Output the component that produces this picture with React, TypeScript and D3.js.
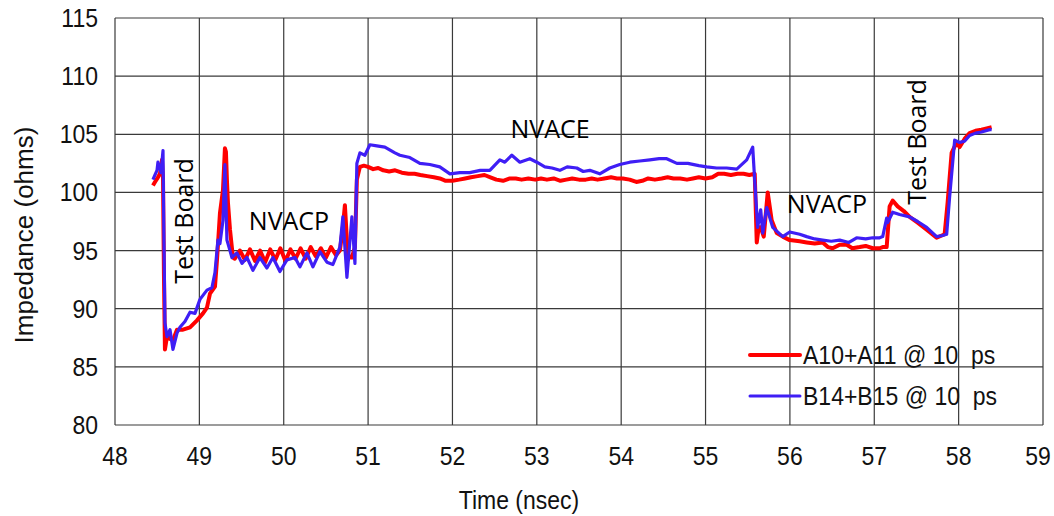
import React from "react";
import * as d3 from "d3";

// Time axis (ns) and impedance (ohms) samples for each TDR trace
const redTime = [
  48.45, 48.474, 48.509, 48.533, 48.557, 48.569, 48.58, 48.592, 48.616, 48.628, 48.652, 48.687, 48.735,
  48.806, 48.889, 48.972, 49.043, 49.09, 49.126, 49.185, 49.209, 49.244, 49.28, 49.303, 49.315,
  49.327, 49.339, 49.363, 49.398, 49.42, 49.48, 49.54, 49.6, 49.66, 49.72, 49.78, 49.84, 49.9, 49.96,
  50.02, 50.08, 50.14, 50.2, 50.26, 50.32, 50.38, 50.44, 50.5, 50.56, 50.62, 50.666, 50.701, 50.725,
  50.749, 50.761, 50.784, 50.808, 50.844, 50.867, 50.903, 50.95, 51.0, 51.06, 51.12, 51.18, 51.25,
  51.32, 51.4, 51.48, 51.55, 51.62, 51.7, 51.78, 51.85, 51.92, 52.0, 52.08, 52.15, 52.22, 52.3,
  52.38, 52.45, 52.52, 52.6, 52.68, 52.75, 52.82, 52.9, 52.98, 53.05, 53.12, 53.2, 53.28, 53.35,
  53.42, 53.5, 53.58, 53.65, 53.72, 53.8, 53.88, 53.95, 54.02, 54.1, 54.18, 54.25, 54.32, 54.4,
  54.48, 54.55, 54.62, 54.7, 54.78, 54.85, 54.92, 55.0, 55.08, 55.15, 55.22, 55.3, 55.38, 55.45,
  55.52, 55.583, 55.607, 55.63, 55.654, 55.69, 55.737, 55.784, 55.844, 55.915, 55.998, 56.116,
  56.199, 56.294, 56.389, 56.45, 56.507, 56.59, 56.673, 56.74, 56.827, 56.898, 56.981, 57.064,
  57.1, 57.147, 57.182, 57.218, 57.277, 57.35, 57.419, 57.514, 57.621, 57.739, 57.834, 57.869,
  57.917, 57.976, 58.012, 58.07, 58.13, 58.2, 58.27, 58.332, 58.391,
];
const redOhms = [
  100.6, 100.9, 101.3, 101.6, 102.8, 101.2, 93.0, 86.5, 87.6, 87.8, 87.4, 87.3, 88.2,
  88.2, 88.4, 89.0, 89.6, 90.1, 91.3, 91.9, 94.2, 98.2, 100.2, 103.8, 103.5,
  101.0, 99.1, 96.8, 94.4, 94.3, 95.0, 94.2, 95.1, 94.1, 95.0, 94.0, 95.1, 94.2, 95.2,
  94.1, 95.1, 94.3, 95.2, 94.3, 95.3, 94.5, 95.2, 94.4, 95.3, 94.6, 95.0, 97.0, 98.9,
  95.9, 94.2, 94.5, 94.4, 95.3, 101.1, 102.2, 102.3, 102.2, 102.0, 102.1, 101.9, 101.8,
  101.9, 101.7, 101.6, 101.6, 101.5, 101.4, 101.3, 101.2, 101.0, 101.0, 101.1, 101.2, 101.3, 101.4,
  101.5, 101.3, 101.1, 101.0, 101.2, 101.2, 101.1, 101.2, 101.1, 101.2, 101.1, 101.2, 101.0, 101.1,
  101.2, 101.1, 101.1, 101.2, 101.1, 101.2, 101.3, 101.2, 101.2, 101.1, 100.9, 101.0, 101.2, 101.1,
  101.2, 101.3, 101.2, 101.2, 101.1, 101.2, 101.3, 101.2, 101.3, 101.6, 101.6, 101.5, 101.6, 101.6,
  101.5, 101.6, 95.7, 97.0, 97.0, 96.2, 100.0, 97.6, 96.5, 96.2, 95.9, 95.8,
  95.7, 95.6, 95.7, 95.3, 95.2, 95.5, 95.5, 95.2, 95.3, 95.4, 95.2, 95.2,
  95.3, 95.3, 98.8, 99.3, 98.8, 98.4, 97.9, 97.4, 96.8, 96.1, 96.4, 99.1,
  103.4, 104.3, 103.9, 104.6, 105.1, 105.3, 105.4, 105.5, 105.6,
];

const blueTime = [
  48.45, 48.474, 48.498, 48.509, 48.533, 48.545, 48.569, 48.58, 48.592, 48.616, 48.652, 48.687,
  48.735, 48.77, 48.829, 48.889, 48.948, 49.007, 49.09, 49.149, 49.185, 49.22, 49.244, 49.28,
  49.303, 49.327, 49.351, 49.386, 49.445, 49.505, 49.564, 49.635, 49.718, 49.801, 49.872,
  49.955, 50.038, 50.133, 50.192, 50.275, 50.346, 50.429, 50.512, 50.583, 50.666, 50.701,
  50.749, 50.808, 50.844, 50.867, 50.903, 50.962, 51.021, 51.104, 51.199, 51.318, 51.377,
  51.495, 51.614, 51.732, 51.85, 51.97, 52.088, 52.205, 52.33, 52.443, 52.562, 52.621, 52.704,
  52.799, 52.917, 53.0, 53.095, 53.18, 53.273, 53.36, 53.474, 53.55, 53.628, 53.746, 53.865,
  53.983, 54.102, 54.22, 54.34, 54.45, 54.54, 54.66, 54.79, 54.92, 55.014, 55.13, 55.25, 55.37,
  55.488, 55.559, 55.583, 55.618, 55.654, 55.678, 55.725, 55.796, 55.915, 55.998, 56.116,
  56.199, 56.294, 56.389, 56.49, 56.59, 56.7, 56.791, 56.898, 56.981, 57.064, 57.1, 57.147,
  57.159, 57.218, 57.3, 57.419, 57.514, 57.621, 57.739, 57.81, 57.858, 57.893, 57.953, 58.012,
  58.07, 58.13, 58.2, 58.27, 58.367, 58.391,
];
const blueOhms = [
  101.1, 101.5, 101.9, 102.6, 102.1, 101.7, 103.6, 96.0, 88.8, 87.6, 88.2, 86.5,
  87.9, 88.4, 88.9, 89.7, 89.6, 90.8, 91.6, 91.8, 93.1, 95.9, 95.6, 97.6,
  102.4, 95.9, 95.3, 94.4, 94.8, 93.9, 94.4, 93.3, 94.4, 93.5, 94.4,
  93.2, 94.2, 94.4, 93.6, 94.8, 93.6, 94.9, 94.0, 93.8, 95.3, 97.9,
  92.7, 97.9, 93.9, 102.5, 103.4, 103.2, 104.1, 104.0, 103.9, 103.4, 103.2,
  103.0, 102.5, 102.4, 102.2, 101.6, 101.7, 101.7, 101.9, 101.9, 102.8, 102.6, 103.2,
  102.6, 102.9, 102.6, 102.2, 102.1, 101.9, 102.2, 102.1, 101.8, 101.9, 101.6, 102.1,
  102.4, 102.6, 102.7, 102.8, 102.9, 102.9, 102.5, 102.5, 102.3, 102.2, 102.1, 102.1, 102.0,
  102.8, 103.9, 101.0, 97.0, 98.5, 96.5, 98.7, 97.0, 96.2, 96.6, 96.4,
  96.2, 96.0, 95.9, 95.8, 95.9, 95.7, 96.1, 96.0, 96.1, 96.1, 96.2, 97.8,
  97.4, 98.3, 98.1, 97.9, 97.5, 97.0, 96.2, 96.3, 96.4, 99.6, 104.5, 104.3,
  104.4, 104.9, 105.1, 105.2, 105.4, 105.4,
];

const xTicks = [48, 49, 50, 51, 52, 53, 54, 55, 56, 57, 58, 59];
const yTicks = [80, 85, 90, 95, 100, 105, 110, 115];

const seriesNames = ["A10+A11 @ 10  ps", "B14+B15 @ 10  ps"];
const seriesColors = ["#ff0000", "#3f1ef5"];

const W = 1054;
const H = 516;
const plot = { left: 115, right: 1043, top: 18, bottom: 425 };
const axisFont = "'Liberation Sans', Arial, sans-serif";
const noteFont = "'Open Sans', 'Noto Sans', sans-serif";
const axisSize = 25;
const squeeze = 0.92; // horizontal condensing of the axis lettering

function AxisText(props: {
  x: number;
  y: number;
  anchor: "start" | "middle" | "end";
  size?: number;
  children: React.ReactNode;
}) {
  return (
    <text
      transform={`translate(${props.x}, ${props.y}) scale(${squeeze}, 1)`}
      textAnchor={props.anchor}
      fontFamily={axisFont}
      fontSize={props.size ?? axisSize}
      fill="#111"
      style={{ whiteSpace: "pre" }}
    >
      {props.children}
    </text>
  );
}

export default function App() {
  const x = d3.scaleLinear().domain([48, 59]).range([plot.left, plot.right]);
  const y = d3.scaleLinear().domain([80, 115]).range([plot.bottom, plot.top]);

  const line = d3
    .line<[number, number]>()
    .x((d) => x(d[0]))
    .y((d) => y(d[1]));

  const red: [number, number][] = redTime.map((t, i) => [t, redOhms[i]]);
  const blue: [number, number][] = blueTime.map((t, i) => [t, blueOhms[i]]);

  const grid = "#3a3a3a";

  return (
    <svg
      width={W}
      height={H}
      style={{ position: "absolute", left: 0, top: 0, background: "#fff" }}
    >
      <rect x={0} y={0} width={W} height={H} fill="#fff" />

      {/* grid */}
      {xTicks.map((t) => (
        <line key={"gx" + t} x1={x(t)} x2={x(t)} y1={plot.top} y2={plot.bottom} stroke={grid} strokeWidth={1.2} />
      ))}
      {yTicks.map((t) => (
        <line key={"gy" + t} x1={plot.left} x2={plot.right} y1={y(t)} y2={y(t)} stroke={grid} strokeWidth={1.2} />
      ))}

      {/* tick labels */}
      {yTicks.map((t) => (
        <AxisText key={"ly" + t} x={98} y={y(t) + 9} anchor="end">
          {t}
        </AxisText>
      ))}
      {xTicks.map((t) => (
        <AxisText key={"lx" + t} x={Math.min(x(t), W - 16)} y={465} anchor="middle">
          {t}
        </AxisText>
      ))}

      {/* axis titles */}
      <AxisText x={519} y={509} anchor="middle">
        Time (nsec)
      </AxisText>
      <text
        transform={`translate(33, 235) rotate(-90)`}
        textAnchor="middle"
        fontFamily={axisFont}
        fontSize={26}
        fill="#111"
      >
        Impedance (ohms)
      </text>

      {/* traces */}
      <path d={line(red) ?? ""} fill="none" stroke={seriesColors[0]} strokeWidth={4} strokeLinejoin="round" />
      <path d={line(blue) ?? ""} fill="none" stroke={seriesColors[1]} strokeWidth={3.2} strokeLinejoin="round" />

      {/* region annotations */}
      <text
        transform={`translate(193, 221) rotate(-90)`}
        textAnchor="middle"
        fontFamily={noteFont}
        fontSize={25}
        fill="#000"
      >
        Test Board
      </text>
      <text x={289} y={230} textAnchor="middle" fontFamily={noteFont} fontSize={25} fill="#000">
        NVACP
      </text>
      <text x={550} y={138} textAnchor="middle" fontFamily={noteFont} fontSize={25} fill="#000">
        NVACE
      </text>
      <text x={827} y={213} textAnchor="middle" fontFamily={noteFont} fontSize={25} fill="#000">
        NVACP
      </text>
      <text
        transform={`translate(926, 142) rotate(-90)`}
        textAnchor="middle"
        fontFamily={noteFont}
        fontSize={25}
        fill="#000"
      >
        Test Board
      </text>

      {/* legend */}
      {seriesNames.map((name, i) => (
        <g key={name} transform={`translate(750, ${355 + i * 41})`}>
          <line x1={0} x2={50} y1={0} y2={0} stroke={seriesColors[i]} strokeWidth={i === 0 ? 4 : 3} strokeLinecap="round" />
          <AxisText x={53} y={9} anchor="start">
            {name}
          </AxisText>
        </g>
      ))}
    </svg>
  );
}
